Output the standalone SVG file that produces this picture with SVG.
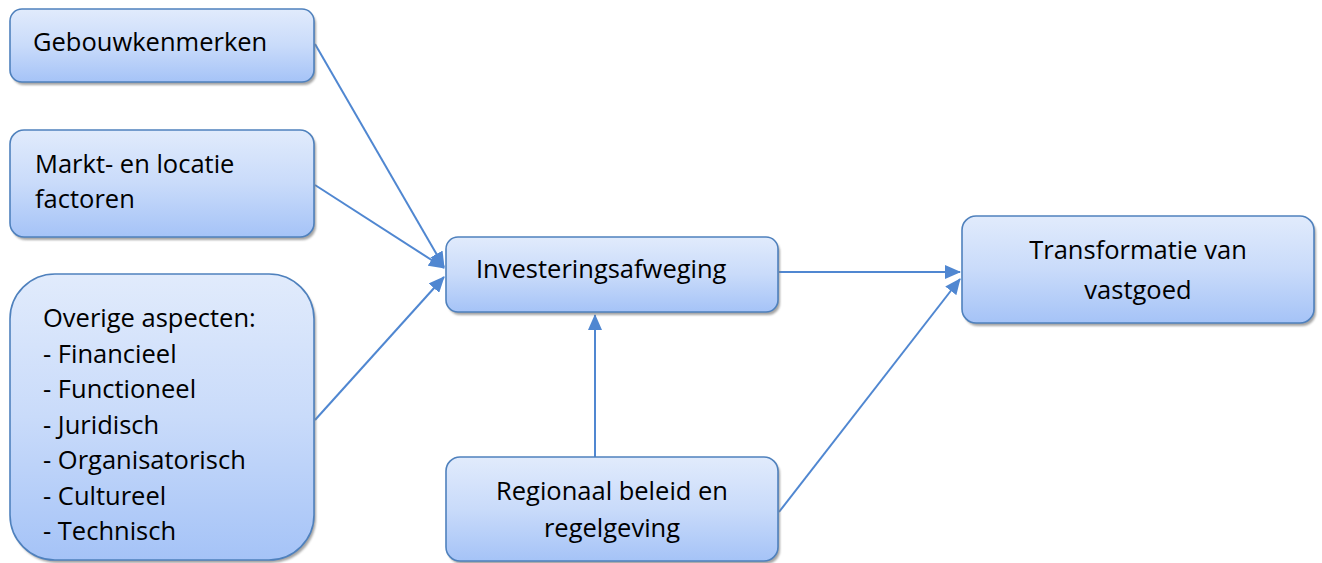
<svg xmlns="http://www.w3.org/2000/svg" width="1322" height="563" viewBox="0 0 1322 563">
<defs>
<linearGradient id="g" x1="0" y1="0" x2="0" y2="1">
<stop offset="0" stop-color="#e1ebfc"/>
<stop offset="0.5" stop-color="#c9dbfa"/>
<stop offset="1" stop-color="#a5c3f7"/>
</linearGradient>
<filter id="sh" x="-5%" y="-5%" width="110%" height="115%">
<feGaussianBlur stdDeviation="1.2"/>
</filter>
<marker id="ahb" markerWidth="16" markerHeight="14" refX="15" refY="7" orient="auto" markerUnits="userSpaceOnUse">
<path d="M0,0 L16,7 L0,14 Z" fill="#5087d1"/>
</marker>
</defs>
<style>
.box{fill:url(#g);stroke:#4f81bd;stroke-width:1.6}
.shd{fill:#7f7f7f;opacity:0.7;filter:url(#sh)}
.t{font-family:"Open Sans","Noto Sans",sans-serif;font-size:25.5px;fill:#000}
.c{stroke:#5087d1;stroke-width:2;fill:none}
</style>
<g id="connectors">
<line class="c" x1="315" y1="44" x2="444" y2="267" marker-end="url(#ahb)"/>
<line class="c" x1="315" y1="185" x2="444" y2="268" marker-end="url(#ahb)"/>
<line class="c" x1="315" y1="420" x2="444" y2="277" marker-end="url(#ahb)"/>
<line class="c" x1="779" y1="272" x2="960" y2="272" marker-end="url(#ahb)"/>
<line class="c" x1="595" y1="457" x2="595" y2="315" marker-end="url(#ahb)"/>
<line class="c" x1="779" y1="512" x2="960" y2="279" marker-end="url(#ahb)"/>
</g>
<g id="gebouwkenmerken">
<rect class="shd" x="12" y="12" width="304" height="73" rx="12"/>
<rect class="box" x="10" y="9" width="304" height="73" rx="12"/>
<text class="t" x="33" y="51">Gebouwkenmerken</text>
</g>
<g id="markt">
<rect class="shd" x="12" y="133" width="304" height="107" rx="14"/>
<rect class="box" x="10" y="130" width="304" height="107" rx="14"/>
<text class="t" x="35" y="173">Markt- en locatie</text>
<text class="t" x="35" y="208">factoren</text>
</g>
<g id="overige">
<rect class="shd" x="12" y="277" width="304" height="286" rx="45"/>
<rect class="box" x="10" y="274" width="304" height="286" rx="45"/>
<text class="t" x="43" y="327">Overige aspecten:</text>
<text class="t" x="43" y="363">- Financieel</text>
<text class="t" x="43" y="398">- Functioneel</text>
<text class="t" x="43" y="434">- Juridisch</text>
<text class="t" x="43" y="469">- Organisatorisch</text>
<text class="t" x="43" y="505">- Cultureel</text>
<text class="t" x="43" y="540">- Technisch</text>
</g>
<g id="investering">
<rect class="shd" x="448" y="240" width="332" height="75" rx="12"/>
<rect class="box" x="446" y="237" width="332" height="75" rx="12"/>
<text class="t" x="476" y="278">Investeringsafweging</text>
</g>
<g id="regionaal">
<rect class="shd" x="448" y="460" width="332" height="104" rx="14"/>
<rect class="box" x="446" y="457" width="332" height="104" rx="14"/>
<text class="t" x="612" y="500" text-anchor="middle">Regionaal beleid en</text>
<text class="t" x="612" y="537" text-anchor="middle">regelgeving</text>
</g>
<g id="transformatie">
<rect class="shd" x="964" y="219" width="352" height="107" rx="14"/>
<rect class="box" x="962" y="216" width="352" height="107" rx="14"/>
<text class="t" x="1138" y="259" text-anchor="middle">Transformatie van</text>
<text class="t" x="1138" y="299" text-anchor="middle">vastgoed</text>
</g>
</svg>
